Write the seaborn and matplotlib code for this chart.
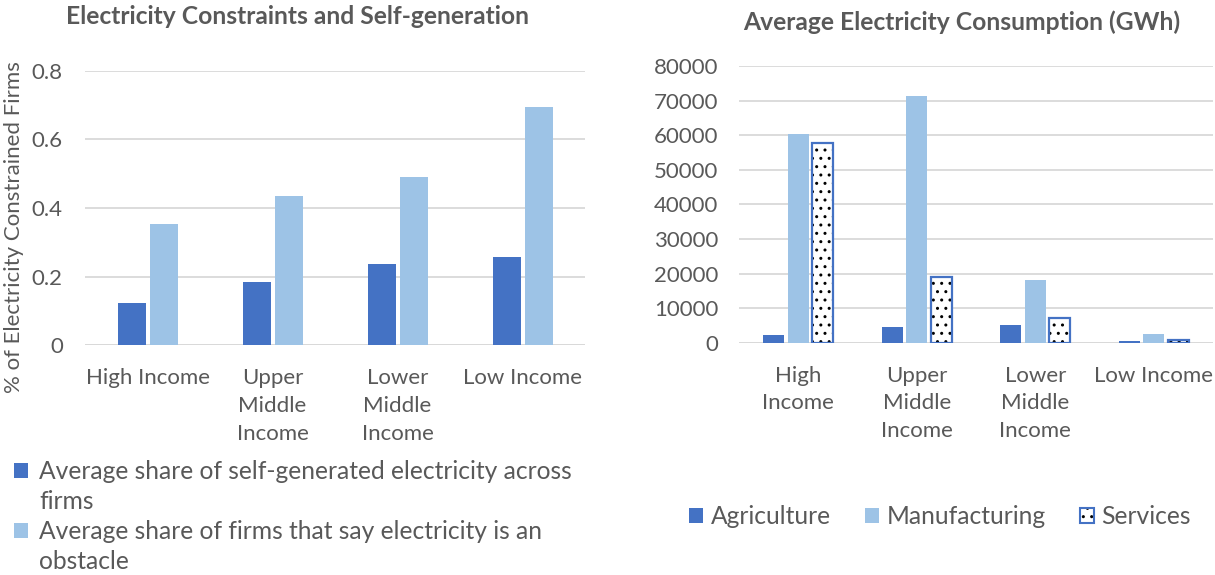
import matplotlib
matplotlib.use("Agg")
import matplotlib.pyplot as plt
import seaborn as sns
import pandas as pd
import numpy as np
from matplotlib.patches import Patch, Rectangle

# ---------------- data ----------------
income = ["High Income", "Upper Middle Income", "Lower Middle Income", "Low Income"]
left_ticklabels = ["High Income", "Upper\nMiddle\nIncome", "Lower\nMiddle\nIncome", "Low Income"]
right_ticklabels = ["High\nIncome", "Upper\nMiddle\nIncome", "Lower\nMiddle\nIncome", "Low Income"]

self_gen = [0.124, 0.184, 0.237, 0.256]
obstacle = [0.354, 0.435, 0.491, 0.693]
left_series = ["Average share of self-generated electricity across firms",
               "Average share of firms that say electricity is an obstacle"]

agriculture = [2100, 4400, 5200, 400]
manufacturing = [60200, 71300, 18100, 2500]
services = [57600, 19100, 7000, 800]
right_series = ["Agriculture", "Manufacturing", "Services"]

left_yticks = [0, 0.2, 0.4, 0.6, 0.8]
left_yticklabels = ["0", "0.2", "0.4", "0.6", "0.8"]
right_yticks = [0, 10000, 20000, 30000, 40000, 50000, 60000, 70000, 80000]

# ---------------- style ----------------
DARK = "#4472C4"
LIGHT = "#9DC3E6"
GRID = "#D9D9D9"
TXT = "#595959"

sns.set_theme(style="white")
plt.rcParams["font.family"] = ["Lato", "DejaVu Sans"]
plt.rcParams["hatch.linewidth"] = 1.0

FS = 16
FS_BIG = 17.7

fig = plt.figure(figsize=(12.15, 5.75), dpi=100)
axL = fig.add_axes([85 / 1215, 1 - 345.3 / 575, 500 / 1215, (345.3 - 70.7) / 575])
axR = fig.add_axes([739 / 1215, 1 - 342.7 / 575, 474 / 1215, (342.7 - 66) / 575])

# ---------------- left chart ----------------
dfL = pd.DataFrame({
    "income": income * 2,
    "series": [left_series[0]] * 4 + [left_series[1]] * 4,
    "value": self_gen + obstacle,
})
sns.barplot(data=dfL, x="income", y="value", hue="series", order=income,
            hue_order=left_series, palette=[DARK, LIGHT], width=0.512, gap=0.125,
            ax=axL, legend=False, linewidth=0, saturation=1)
axL.set_ylim(0, 0.8)
axL.set_xlim(-0.5, 3.5)
axL.set_yticks(left_yticks)
axL.set_yticklabels(left_yticklabels)
axL.set_xticks(range(4))
axL.set_xticklabels(left_ticklabels)
axL.set_xlabel("")
axL.set_ylabel("% of Electricity Constrained Firms", fontsize=FS, color=TXT)
axL.yaxis.set_label_coords(-0.122, 0.43)

# ---------------- right chart ----------------
dfR = pd.DataFrame({
    "income": income * 3,
    "sector": [right_series[0]] * 4 + [right_series[1]] * 4 + [right_series[2]] * 4,
    "value": agriculture + manufacturing + services,
})
sns.barplot(data=dfR, x="income", y="value", hue="sector", order=income,
            hue_order=right_series, palette=[DARK, LIGHT, "white"], width=0.62, gap=0.16,
            ax=axR, legend=False, linewidth=0, saturation=1)
# style services bars: white with black dotted pattern and blue outline
serv_patches = list(axR.patches[8:12])
for p in serv_patches:
    p.set_facecolor("white")
    p.set_edgecolor("black")
    p.set_linewidth(0)
    p.set_hatch("..")
    axR.add_patch(Rectangle((p.get_x(), p.get_y()), p.get_width(), p.get_height(),
                            fill=False, edgecolor=DARK, linewidth=1.6,
                            zorder=p.get_zorder() + 0.1))
axR.set_ylim(0, 80000)
axR.set_xlim(-0.5, 3.5)
axR.set_yticks(right_yticks)
axR.set_yticklabels([str(v) for v in right_yticks])
axR.set_xticks(range(4))
axR.set_xticklabels(right_ticklabels)
axR.set_xlabel("")
axR.set_ylabel("")

for ax, ypad in ((axL, 16), (axR, 15)):
    for s in ax.spines.values():
        s.set_visible(False)
    ax.yaxis.grid(True, color=GRID, linewidth=1.3)
    ax.set_axisbelow(True)
    ax.axhline(0, color=GRID, linewidth=1.3, zorder=0.5)
    ax.tick_params(axis="y", length=0, pad=ypad, labelsize=FS, labelcolor=TXT)
    ax.tick_params(axis="x", length=0, pad=16.5, labelsize=FS, labelcolor=TXT)
    for t in ax.get_xticklabels():
        t.set_linespacing(1.48)

# ---------------- titles ----------------
fig.text(297 / 1215, 1 - 16 / 575, "Electricity Constraints and Self-generation",
         ha="center", va="center", fontsize=FS_BIG, fontweight="bold", color=TXT)
fig.text(962 / 1215, 1 - 22 / 575, "Average Electricity Consumption (GWh)",
         ha="center", va="center", fontsize=FS_BIG, fontweight="bold", color=TXT)

# ---------------- legends ----------------
blank = Patch(facecolor="none", edgecolor="none")
hL = [Patch(facecolor=DARK, edgecolor="none"), blank,
      Patch(facecolor=LIGHT, edgecolor="none"), blank]
lL = ["Average share of self-generated electricity across", "firms",
      "Average share of firms that say electricity is an", "obstacle"]
legL = fig.legend(hL, lL, loc="upper left", bbox_to_anchor=(2 / 1215, 1 - 448 / 575),
                  frameon=False, fontsize=FS_BIG, handlelength=0.55, handleheight=0.55,
                  handletextpad=0.45, labelspacing=0.28, labelcolor=TXT, borderpad=0)

serv_handle = (Patch(facecolor="white", edgecolor="black", linewidth=0, hatch=".."),
               Patch(fill=False, edgecolor=DARK, linewidth=1.5))
hR = [Patch(facecolor=DARK, edgecolor="none"),
      Patch(facecolor=LIGHT, edgecolor="none"),
      serv_handle]
legR = fig.legend(hR, right_series, loc="center left", bbox_to_anchor=(677 / 1215, 1 - 517 / 575),
                  frameon=False, fontsize=FS_BIG, ncol=3, handlelength=0.57, handleheight=0.57,
                  handletextpad=0.3, columnspacing=1.4, labelcolor=TXT, borderpad=0)

fig.savefig("out.png", dpi=100)
